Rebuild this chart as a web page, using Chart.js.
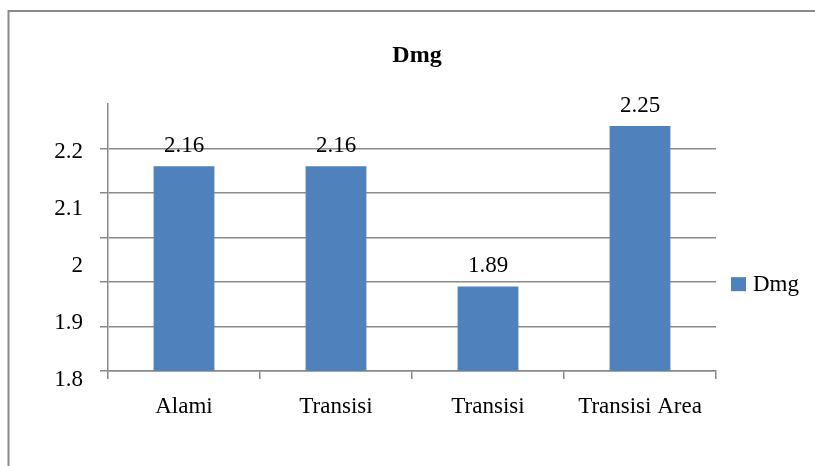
<!DOCTYPE html>
<html>
<head>
<meta charset="utf-8">
<style>
  html, body { margin: 0; padding: 0; background: #ffffff; }
  #wrap { width: 815px; height: 466px; }
</style>
<script src="https://cdn.jsdelivr.net/npm/chart.js@4.4.1/dist/chart.umd.min.js"></script>
</head>
<body>
<div id="wrap"><canvas id="dmgChart" width="815" height="466"></canvas></div>
<script>
// Dmg per site
const categories = ['Alami', 'Transisi', 'Transisi', 'Transisi Area'];
const dmgValues = [2.16, 2.16, 1.89, 2.25];
const seriesName = 'Dmg';
// Tick labels printed beside the value axis
const yTickLabels = [1.8, 1.9, 2, 2.1, 2.2];

const SERIF = '"Liberation Serif", "Times New Roman", serif';
const GRID = '#8a8a8a';
const BAR = '#4f81bd';

// white page with a grey frame around the chart
const framePlugin = {
  id: 'frame',
  beforeDraw(chart) {
    const c = chart.ctx;
    c.save();
    c.fillStyle = '#ffffff';
    c.fillRect(0, 0, chart.width, chart.height);
    c.strokeStyle = GRID;
    c.lineWidth = 2;
    c.strokeRect(8.5, 11, chart.width + 20, chart.height + 20);
    c.restore();
  }
};

// value printed above each bar
const valueLabels = {
  id: 'valueLabels',
  afterDatasetsDraw(chart) {
    const c = chart.ctx;
    const meta = chart.getDatasetMeta(0);
    c.save();
    c.font = '23px ' + SERIF;
    c.fillStyle = '#000000';
    c.textAlign = 'center';
    c.textBaseline = 'alphabetic';
    meta.data.forEach((bar, i) => {
      c.fillText(String(chart.data.datasets[0].data[i]), bar.x, bar.y - 14);
    });
    c.restore();
  }
};

// single-entry legend to the right of the plot
const sideLegend = {
  id: 'sideLegend',
  afterDraw(chart) {
    const c = chart.ctx;
    const a = chart.chartArea;
    const ds = chart.data.datasets[0];
    const x = a.right + 15;
    const y = a.top + (a.bottom - a.top) * 0.675;
    c.save();
    c.fillStyle = ds.backgroundColor;
    c.fillRect(x, y - 7, 15, 14);
    c.font = '23px ' + SERIF;
    c.fillStyle = '#000000';
    c.textAlign = 'left';
    c.textBaseline = 'middle';
    c.fillText(ds.label, x + 22, y + 1);
    c.restore();
  }
};

const isTop = (ctx) => ctx.tick && ctx.tick.value > 2.29;

new Chart(document.getElementById('dmgChart'), {
  type: 'bar',
  data: {
    labels: categories,
    datasets: [{
      label: seriesName,
      data: dmgValues,
      backgroundColor: BAR,
      borderWidth: 0,
      categoryPercentage: 1,
      barPercentage: 0.4
    }]
  },
  options: {
    responsive: false,
    animation: false,
    devicePixelRatio: 1,
    layout: { padding: { left: 19, right: 0, top: 0, bottom: 0 } },
    plugins: {
      legend: { display: false },
      tooltip: { enabled: false },
      title: {
        display: true,
        text: 'Dmg',
        color: '#000000',
        font: { family: SERIF, size: 24, weight: 'bold' },
        padding: { top: 41, bottom: 34 }
      }
    },
    scales: {
      x: {
        type: 'category',
        offset: true,
        grid: {
          offset: true,
          drawOnChartArea: false,
          drawTicks: true,
          tickLength: 8,
          color: GRID,
          lineWidth: 1.5
        },
        border: { display: true, color: GRID, width: 1.5 },
        ticks: {
          color: '#000000',
          font: { family: SERIF, size: 23 },
          padding: 14,
          maxRotation: 0,
          autoSkip: false
        },
        afterFit(scale) { scale.height = 95; }
      },
      y: {
        type: 'linear',
        position: 'left',
        weight: 0,
        min: 1.7,
        max: 2.3,
        grid: {
          drawTicks: true,
          tickLength: 8,
          lineWidth: 1.5,
          color: (ctx) => isTop(ctx) ? 'rgba(0,0,0,0)' : GRID,
          tickColor: (ctx) => isTop(ctx) ? 'rgba(0,0,0,0)' : GRID
        },
        border: { display: true, color: GRID, width: 1.5 },
        ticks: { display: false, stepSize: 0.1 },
        afterFit(scale) { scale.width = 8; }
      },
      yLabels: {
        type: 'linear',
        position: 'left',
        weight: 1,
        min: 1.8,
        max: 2.268,
        grid: { display: false, drawTicks: false },
        border: { display: false },
        afterBuildTicks(scale) {
          scale.ticks = yTickLabels.map(v => ({ value: v }));
        },
        ticks: {
          color: '#000000',
          font: { family: SERIF, size: 23 },
          padding: 17,
          labelOffset: 9,
          callback: (v) => String(v)
        },
        afterFit(scale) { scale.width = 81; }
      },
      yRight: {
        type: 'linear',
        position: 'right',
        grid: { display: false, drawTicks: false },
        border: { display: false },
        ticks: { display: false },
        afterFit(scale) { scale.width = 99; }
      }
    }
  },
  plugins: [framePlugin, valueLabels, sideLegend]
});
</script>
</body>
</html>
